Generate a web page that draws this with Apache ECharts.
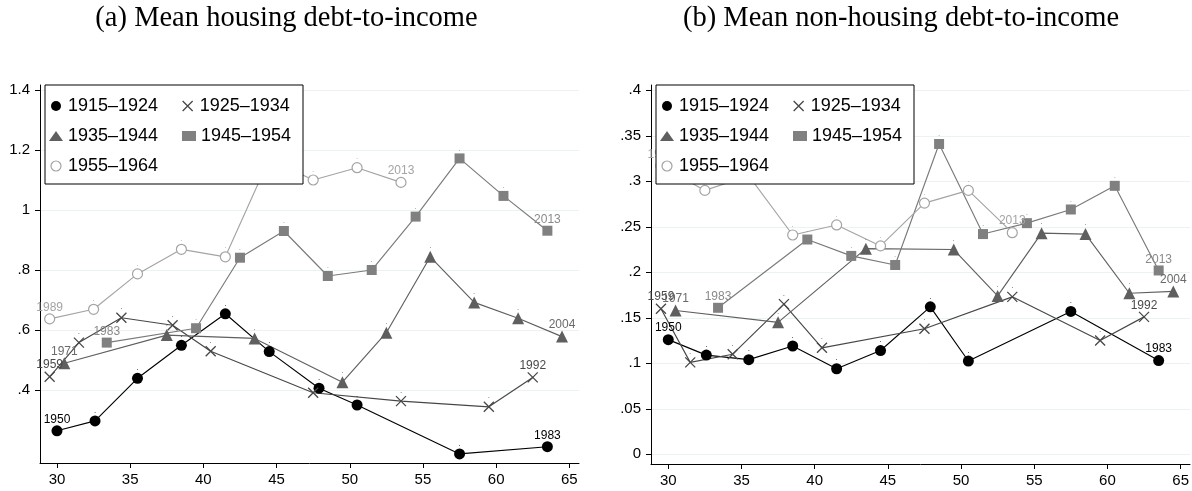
<!DOCTYPE html>
<html>
<head>
<meta charset="utf-8">
<script src="https://cdn.jsdelivr.net/npm/echarts@6/dist/echarts.min.js"></script>
<style>
  html, body { margin: 0; padding: 0; background: #fff; }
  #chart { width: 1192px; height: 491px; }
</style>
</head>
<body>
<div id="chart"></div>
<script>
// Birth cohorts and the survey years of their first and last observation
const cohorts = ['1915–1924', '1925–1934', '1935–1944', '1945–1954', '1955–1964'];
const firstYears = [1950, 1959, 1971, 1983, 1989];
const lastYears = [1983, 1992, 2004, 2013, 2013];

// Mean age of each cohort at each survey
const ages1915 = [30.0, 32.6, 35.5, 38.5, 41.5, 44.5, 47.9, 50.5, 57.5, 63.5];
const ages1925 = [29.5, 31.5, 34.4, 37.9, 40.5, 47.5, 53.5, 59.5, 62.5];
const ages1935 = [30.5, 37.5, 43.5, 49.5, 52.5, 55.5, 58.5, 61.5, 64.5];
const ages1945 = [33.4, 39.5, 42.5, 45.5, 48.5, 51.5, 54.5, 57.5, 60.5, 63.5];
const ages1955 = [29.5, 32.5, 35.5, 38.5, 41.5, 44.5, 47.5, 50.5, 53.5];

// (a) Mean housing debt-to-income
const housing1915 = [0.264, 0.297, 0.439, 0.549, 0.654, 0.528, 0.406, 0.350, 0.187, 0.211];
const housing1925 = [0.444, 0.558, 0.641, 0.616, 0.529, 0.391, 0.363, 0.344, 0.442];
const housing1935 = [0.489, 0.583, 0.572, 0.426, 0.591, 0.844, 0.692, 0.639, 0.578];
const housing1945 = [0.558, 0.606, 0.841, 0.930, 0.780, 0.800, 0.978, 1.172, 1.047, 0.931];
const housing1955 = [0.637, 0.669, 0.787, 0.869, 0.844, 1.170, 1.100, 1.141, 1.092];

// (b) Mean non-housing debt-to-income
const nonHousing1915 = [0.126, 0.109, 0.104, 0.119, 0.094, 0.114, 0.162, 0.1025, 0.157, 0.103];
const nonHousing1925 = [0.160, 0.101, 0.110, 0.165, 0.117, 0.138, 0.173, 0.125, 0.151];
const nonHousing1935 = [0.158, 0.145, 0.226, 0.225, 0.174, 0.243, 0.242, 0.177, 0.179];
const nonHousing1945 = [0.161, 0.236, 0.218, 0.208, 0.341, 0.242, 0.254, 0.269, 0.295, 0.202];
const nonHousing1955 = [0.317, 0.290, 0.306, 0.241, 0.252, 0.229, 0.276, 0.290, 0.2435];

// Axis ticks
const ageTicks = [30, 35, 40, 45, 50, 55, 60, 65];
const housingTicks = [0.4, 0.6, 0.8, 1, 1.2, 1.4];
const housingTickLabels = ['.4', '.6', '.8', '1', '1.2', '1.4'];
const nonHousingTicks = [0, 0.05, 0.1, 0.15, 0.2, 0.25, 0.3, 0.35, 0.4];
const nonHousingTickLabels = ['0', '.05', '.1', '.15', '.2', '.25', '.3', '.35', '.4'];
const panelTitles = ['(a) Mean housing debt-to-income', '(b) Mean non-housing debt-to-income'];

const ages = [ages1915, ages1925, ages1935, ages1945, ages1955];
const panels = [
  [housing1915, housing1925, housing1935, housing1945, housing1955],
  [nonHousing1915, nonHousing1925, nonHousing1935, nonHousing1945, nonHousing1955]
];

// Marker and line style of each cohort
const SANS = 'Liberation Sans';
const cohortStyles = [
  { symbol: 'circle', size: 11, fill: '#000000', stroke: '#000000', bw: 0, line: '#000000', text: '#000000' },
  { symbol: 'path://M0,0L10,10M10,0L0,10', size: 10, fill: 'rgba(0,0,0,0)', stroke: '#474747', bw: 1.3, line: '#474747', text: '#4a4a4a' },
  { symbol: 'triangle', size: 12, fill: '#5f5f5f', stroke: '#5f5f5f', bw: 0, line: '#5f5f5f', text: '#6a6a6a' },
  { symbol: 'rect', size: 10, fill: '#808080', stroke: '#808080', bw: 0, line: '#7a7a7a', text: '#8a8a8a' },
  { symbol: 'circle', size: 10, fill: '#ffffff', stroke: '#a4a4a4', bw: 1.2, line: '#a4a4a4', text: '#a4a4a4' }
];

function makeSeries(panel, idx) {
  const st = cohortStyles[idx];
  const xs = ages[idx];
  const ys = panels[panel][idx];
  const data = xs.map((a, i) => {
    const edge = i === 0 || i === xs.length - 1;
    const text = i === 0 ? String(firstYears[idx]) : (i === xs.length - 1 ? String(lastYears[idx]) : '.');
    return {
      value: [a, ys[i]],
      label: { formatter: text, fontSize: edge ? 12 : 8, distance: edge ? 0 : 1 }
    };
  });
  return {
    type: 'line',
    name: cohorts[idx],
    xAxisIndex: panel,
    yAxisIndex: panel,
    data: data,
    symbol: st.symbol,
    symbolSize: st.size,
    symbolKeepAspect: true,
    itemStyle: { color: st.fill, borderColor: st.stroke, borderWidth: st.bw },
    lineStyle: { color: st.line, width: 1.15 },
    label: { show: true, position: 'top', color: st.text, fontFamily: SANS },
    emphasis: { disabled: true },
    animation: false
  };
}

const series = [];
for (let p = 0; p < 2; p++) {
  for (let c = 0; c < cohorts.length; c++) series.push(makeSeries(p, c));
}

const legendData = cohorts.map((name, i) => {
  const st = cohortStyles[i];
  return {
    name: name,
    icon: st.symbol,
    itemStyle: { color: st.fill, borderColor: st.stroke, borderWidth: st.bw }
  };
});

function makeLegend(left) {
  return {
    left: left, top: 85, width: 300,
    orient: 'horizontal',
    data: legendData,
    itemWidth: 14, itemHeight: 10, itemGap: 12,
    padding: [12, 0, 9, 4],
    backgroundColor: '#ffffff', borderColor: '#000000', borderWidth: 1,
    selectedMode: false,
    z: 10,
    textStyle: { fontFamily: SANS, fontSize: 18, color: '#000', width: 102, lineHeight: 12 }
  };
}

function makeXAxis(grid, min, max) {
  return {
    type: 'value', gridIndex: grid, min: min, max: max,
    axisLine: { show: true, onZero: false, lineStyle: { color: '#000', width: 1 } },
    axisTick: { show: true, length: 5, customValues: ageTicks, lineStyle: { color: '#000' } },
    axisLabel: { customValues: ageTicks, fontFamily: SANS, fontSize: 15, color: '#000', margin: 9 },
    splitLine: { show: false }
  };
}

function makeYAxis(grid, min, max, ticks, labels) {
  return {
    type: 'value', gridIndex: grid, min: min, max: max,
    axisLine: { show: true, onZero: false, lineStyle: { color: '#000', width: 1 } },
    axisTick: { show: true, length: 5, customValues: ticks, lineStyle: { color: '#000' } },
    axisLabel: {
      customValues: ticks, fontFamily: SANS, fontSize: 15, color: '#000', margin: 10,
      formatter: function (v) {
        const k = ticks.findIndex(t => Math.abs(t - v) < 1e-9);
        return k >= 0 ? labels[k] : '';
      }
    },
    splitLine: { show: true, lineStyle: { color: '#eaf2f3', width: 1 } }
  };
}

const chart = echarts.init(document.getElementById('chart'), null, { renderer: 'canvas' });
chart.setOption({
  backgroundColor: '#ffffff',
  animation: false,
  title: [
    { text: panelTitles[0], left: 286.5, top: 4, textAlign: 'center', padding: 0,
      textStyle: { fontFamily: 'Liberation Serif', fontSize: 28.5, fontWeight: 'normal', color: '#000' } },
    { text: panelTitles[1], left: 901, top: 4, textAlign: 'center', padding: 0,
      textStyle: { fontFamily: 'Liberation Serif', fontSize: 28.5, fontWeight: 'normal', color: '#000' } }
  ],
  legend: [makeLegend(45), makeLegend(656)],
  grid: [
    { left: 40, top: 85, width: 539, height: 378, containLabel: false },
    { left: 651, top: 85, width: 539, height: 379, containLabel: false }
  ],
  xAxis: [makeXAxis(0, 28.84, 65.66), makeXAxis(1, 28.82, 65.64)],
  yAxis: [
    makeYAxis(0, 0.1567, 1.4167, housingTicks, housingTickLabels),
    makeYAxis(1, -0.01066, 0.4058, nonHousingTicks, nonHousingTickLabels)
  ],
  series: series
});
</script>
</body>
</html>
